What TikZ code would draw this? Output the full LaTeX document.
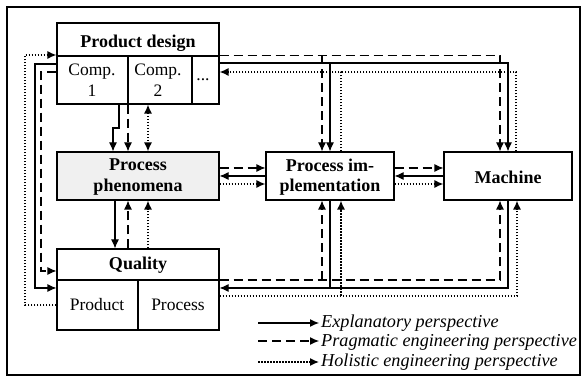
\documentclass[tikz,border=0pt]{standalone}
\usepackage{fontspec}
\setmainfont{Liberation Serif}
\usetikzlibrary{arrows.meta}
\tikzset{
  box/.style={draw, line width=1.1pt, inner sep=0pt},
  lbl/.style={inner sep=0pt, font=\fontsize{17.5}{21}\selectfont, align=center},
  blbl/.style={lbl, font=\fontsize{18}{20.5}\selectfont\bfseries},
  conn/.style={line width=1.1pt},
  dsh/.style={conn, dash pattern=on 9pt off 5pt},
  dtd/.style={line width=1.4pt, dash pattern=on 1.5pt off 1.5pt},
  arr/.style={-{Latex[length=9pt,width=8pt]}},
  barr/.style={{Latex[length=9pt,width=8pt]}-{Latex[length=9pt,width=8pt]}},
  leg/.style={inner sep=0pt, anchor=west, font=\fontsize{18.2}{20}\selectfont\itshape}
}
\begin{document}
\begin{tikzpicture}[x=1pt,y=-1pt]
\useasboundingbox (0,0) rectangle (584,379);
\draw[line width=1.3pt] (7,7) rectangle (580,375);
% boxes
\node[box, minimum width=162pt, minimum height=81pt] (pd) at (138,63.5) {};
\node[box, fill=black!6, minimum width=162pt, minimum height=48pt] (pp) at (138,176) {};
\node[box, minimum width=128pt, minimum height=48pt] (pi) at (330,176) {};
\node[box, minimum width=128pt, minimum height=48pt] (ma) at (508,176) {};
\node[box, minimum width=162pt, minimum height=81pt] (q) at (138,289.5) {};
% product design inner lines
\draw[line width=1.1pt] (pd.west |- 0,56) -- (pd.east |- 0,56);
\draw[line width=1.1pt] (128,56) -- (128,0 |- pd.south);
\draw[line width=1.1pt] (192,56) -- (192,0 |- pd.south);
% quality inner lines
\draw[line width=1.1pt] (q.west |- 0,280) -- (q.east |- 0,280);
\draw[line width=1.1pt] (138,280) -- (138,0 |- q.south);
% texts
\node[blbl] (tpd) at (138,43) {Product design};
\node[lbl] (tc1) at (92,80) {Comp.\\1};
\node[lbl] (tc2) at (158,80) {Comp.\\2};
\node[lbl] (tdots) at (203,80) {...};
\node[blbl] (tpp) at (138,177) {Process\\phenomena};
\node[blbl] (tpi) at (330,177) {Process im-\\plementation};
\node[blbl] (tma) at (508,177) {Machine};
\node[blbl] (tq) at (138,265) {Quality};
\node[lbl] (tqp) at (97,305) {Product};
\node[lbl] (tqr) at (178,305) {Process};
% product design -> process phenomena
\draw[conn, arr] (119,0 |- pd.south) -- (119,128) -- (113,128) -- (113,0 |- pp.north);
\draw[dsh, arr] (128,0 |- pd.south) -- (128,0 |- pp.north);
\draw[dtd, barr] (148,0 |- pd.south) -- (148,0 |- pp.north);
% process phenomena <-> quality
\draw[conn, arr] (115,0 |- pp.south) -- (115,0 |- q.north);
\draw[dsh, arr] (128,0 |- q.north) -- (128,0 |- pp.south);
\draw[dtd, arr] (148,0 |- q.north) -- (148,0 |- pp.south);
% phenomena <-> implementation
\draw[dsh, arr] (pp.east |- 0,168) -- (pi.west |- 0,168);
\draw[conn, arr] (pi.west |- 0,176) -- (pp.east |- 0,176);
\draw[dtd, arr] (pp.east |- 0,184) -- (pi.west |- 0,184);
% implementation <-> machine
\draw[dsh, arr] (pi.east |- 0,168) -- (ma.west |- 0,168);
\draw[conn, arr] (ma.west |- 0,176) -- (pi.east |- 0,176);
\draw[dtd, arr] (pi.east |- 0,184) -- (ma.west |- 0,184);
% top: product design -> implementation / machine
\draw[dsh, arr] (pd.east |- 0,55.5) -| (500,0 |- ma.north);
\draw[dsh, arr] (322,55.5) -- (322,0 |- pi.north);
\draw[conn, arr] (pd.east |- 0,63) -| (508,0 |- ma.north);
\draw[conn, arr] (330,63) -- (330,0 |- pi.north);
\draw[dtd, arr] (341,0 |- pi.north) |- (pd.east |- 0,72);
\draw[dtd] (516,0 |- ma.north) |- (341,72);
% left side
\draw[dtd, arr] (q.west |- 0,305) -| (25,55) -- (pd.west |- 0,55);
\draw[conn, arr] (pd.west |- 0,64) -| (35,288) -- (q.west |- 0,288);
\draw[dsh, arr] (pd.west |- 0,72) -| (41,271) -- (q.west |- 0,271);
% bottom right
\draw[dsh, arr] (q.east |- 0,280) -| (500,0 |- ma.south);
\draw[dsh, arr] (322,280) -- (322,0 |- pi.south);
\draw[conn, arr] (508,0 |- ma.south) |- (q.east |- 0,288);
\draw[conn] (330,0 |- pi.south) -- (330,288);
\draw[dtd, arr] (q.east |- 0,296) -| (517,0 |- ma.south);
\draw[dtd, arr] (341,296) -- (341,0 |- pi.south);
% legend
\coordinate (l1a) at (258,323); \coordinate (l1b) at (319,323);
\coordinate (l2a) at (258,341); \coordinate (l2b) at (319,341);
\coordinate (l3a) at (258,362); \coordinate (l3b) at (319,362);
\draw[conn, arr] (l1a) -- (l1b);
\draw[dsh, arr] (l2a) -- (l2b);
\draw[dtd, arr] (l3a) -- (l3b);
\node[leg] (e1) at (321,323) {Explanatory perspective};
\node[leg] (e2) at (321,342) {Pragmatic engineering perspective};
\node[leg] (e3) at (321,362) {Holistic engineering perspective};
\end{tikzpicture}
\end{document}
